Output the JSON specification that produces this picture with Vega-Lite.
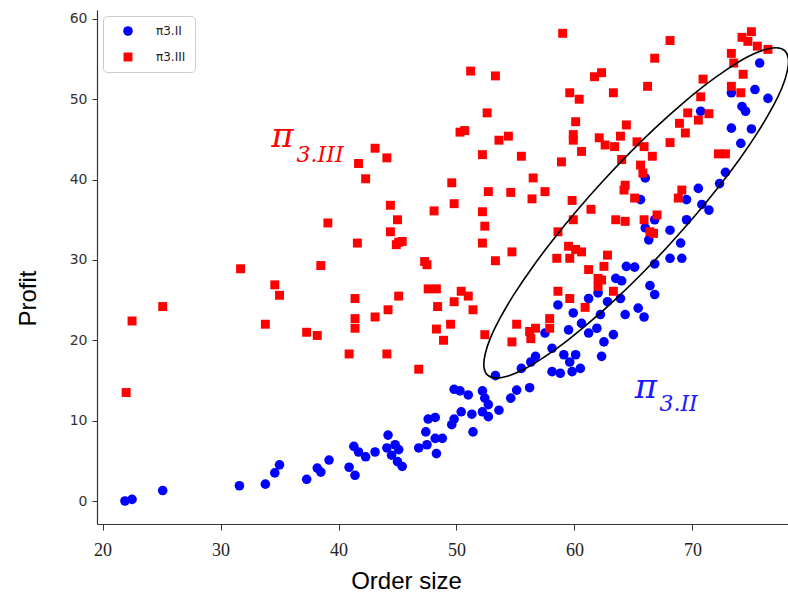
{
  "$schema": "https://vega.github.io/schema/vega-lite/v6.json",
  "width": 691,
  "height": 514,
  "autosize": {"type": "none"},
  "padding": {"left": 97, "top": 10, "right": 0, "bottom": 75},
  "background": "white",
  "config": {
    "view": {"stroke": null},
    "axis": {"grid": false, "domainColor": "#333333", "tickColor": "#333333", "tickSize": 6, "domainWidth": 1.2}
  },
  "datasets": {
    "points": [
      {"order_size": 21.9, "profit": 0.0, "series": "π3.II"},
      {"order_size": 22.5, "profit": 0.2, "series": "π3.II"},
      {"order_size": 25.1, "profit": 1.3, "series": "π3.II"},
      {"order_size": 31.6, "profit": 1.9, "series": "π3.II"},
      {"order_size": 33.8, "profit": 2.1, "series": "π3.II"},
      {"order_size": 34.6, "profit": 3.5, "series": "π3.II"},
      {"order_size": 35.0, "profit": 4.5, "series": "π3.II"},
      {"order_size": 37.3, "profit": 2.7, "series": "π3.II"},
      {"order_size": 38.2, "profit": 4.1, "series": "π3.II"},
      {"order_size": 38.5, "profit": 3.6, "series": "π3.II"},
      {"order_size": 39.2, "profit": 5.1, "series": "π3.II"},
      {"order_size": 40.9, "profit": 4.2, "series": "π3.II"},
      {"order_size": 41.4, "profit": 3.2, "series": "π3.II"},
      {"order_size": 41.3, "profit": 6.8, "series": "π3.II"},
      {"order_size": 41.7, "profit": 6.1, "series": "π3.II"},
      {"order_size": 42.3, "profit": 5.5, "series": "π3.II"},
      {"order_size": 43.1, "profit": 6.1, "series": "π3.II"},
      {"order_size": 44.2, "profit": 8.2, "series": "π3.II"},
      {"order_size": 44.1, "profit": 6.6, "series": "π3.II"},
      {"order_size": 44.8, "profit": 7.0, "series": "π3.II"},
      {"order_size": 45.1, "profit": 6.4, "series": "π3.II"},
      {"order_size": 44.5, "profit": 5.7, "series": "π3.II"},
      {"order_size": 45.0, "profit": 4.9, "series": "π3.II"},
      {"order_size": 45.4, "profit": 4.3, "series": "π3.II"},
      {"order_size": 46.8, "profit": 6.6, "series": "π3.II"},
      {"order_size": 47.5, "profit": 7.0, "series": "π3.II"},
      {"order_size": 47.4, "profit": 8.6, "series": "π3.II"},
      {"order_size": 48.3, "profit": 5.9, "series": "π3.II"},
      {"order_size": 48.2, "profit": 7.8, "series": "π3.II"},
      {"order_size": 48.8, "profit": 7.8, "series": "π3.II"},
      {"order_size": 47.6, "profit": 10.2, "series": "π3.II"},
      {"order_size": 48.2, "profit": 10.4, "series": "π3.II"},
      {"order_size": 49.6, "profit": 9.5, "series": "π3.II"},
      {"order_size": 49.8, "profit": 10.2, "series": "π3.II"},
      {"order_size": 50.4, "profit": 11.1, "series": "π3.II"},
      {"order_size": 51.3, "profit": 10.8, "series": "π3.II"},
      {"order_size": 51.4, "profit": 8.6, "series": "π3.II"},
      {"order_size": 49.8, "profit": 13.9, "series": "π3.II"},
      {"order_size": 50.3, "profit": 13.7, "series": "π3.II"},
      {"order_size": 51.0, "profit": 13.2, "series": "π3.II"},
      {"order_size": 52.2, "profit": 13.7, "series": "π3.II"},
      {"order_size": 52.4, "profit": 12.8, "series": "π3.II"},
      {"order_size": 52.7, "profit": 12.0, "series": "π3.II"},
      {"order_size": 52.2, "profit": 11.1, "series": "π3.II"},
      {"order_size": 52.7, "profit": 10.5, "series": "π3.II"},
      {"order_size": 53.6, "profit": 11.3, "series": "π3.II"},
      {"order_size": 54.6, "profit": 12.8, "series": "π3.II"},
      {"order_size": 55.1, "profit": 13.8, "series": "π3.II"},
      {"order_size": 56.2, "profit": 14.1, "series": "π3.II"},
      {"order_size": 53.3, "profit": 15.6, "series": "π3.II"},
      {"order_size": 55.5, "profit": 16.5, "series": "π3.II"},
      {"order_size": 56.3, "profit": 17.3, "series": "π3.II"},
      {"order_size": 56.7, "profit": 18.0, "series": "π3.II"},
      {"order_size": 57.5, "profit": 20.9, "series": "π3.II"},
      {"order_size": 58.1, "profit": 19.0, "series": "π3.II"},
      {"order_size": 58.1, "profit": 16.1, "series": "π3.II"},
      {"order_size": 58.6, "profit": 24.4, "series": "π3.II"},
      {"order_size": 58.8, "profit": 15.9, "series": "π3.II"},
      {"order_size": 59.5, "profit": 21.3, "series": "π3.II"},
      {"order_size": 59.9, "profit": 23.4, "series": "π3.II"},
      {"order_size": 60.1, "profit": 18.2, "series": "π3.II"},
      {"order_size": 60.5, "profit": 16.5, "series": "π3.II"},
      {"order_size": 59.8, "profit": 16.1, "series": "π3.II"},
      {"order_size": 59.6, "profit": 17.3, "series": "π3.II"},
      {"order_size": 59.1, "profit": 18.2, "series": "π3.II"},
      {"order_size": 60.6, "profit": 22.1, "series": "π3.II"},
      {"order_size": 61.2, "profit": 25.2, "series": "π3.II"},
      {"order_size": 61.2, "profit": 20.9, "series": "π3.II"},
      {"order_size": 61.9, "profit": 21.5, "series": "π3.II"},
      {"order_size": 62.3, "profit": 18.0, "series": "π3.II"},
      {"order_size": 62.5, "profit": 19.8, "series": "π3.II"},
      {"order_size": 62.2, "profit": 23.2, "series": "π3.II"},
      {"order_size": 62.0, "profit": 25.9, "series": "π3.II"},
      {"order_size": 62.8, "profit": 24.8, "series": "π3.II"},
      {"order_size": 63.3, "profit": 20.7, "series": "π3.II"},
      {"order_size": 63.5, "profit": 27.7, "series": "π3.II"},
      {"order_size": 64.0, "profit": 27.4, "series": "π3.II"},
      {"order_size": 63.9, "profit": 25.2, "series": "π3.II"},
      {"order_size": 64.3, "profit": 23.2, "series": "π3.II"},
      {"order_size": 65.4, "profit": 24.0, "series": "π3.II"},
      {"order_size": 65.9, "profit": 22.9, "series": "π3.II"},
      {"order_size": 64.4, "profit": 29.2, "series": "π3.II"},
      {"order_size": 65.1, "profit": 29.1, "series": "π3.II"},
      {"order_size": 66.4, "profit": 26.8, "series": "π3.II"},
      {"order_size": 66.8, "profit": 25.7, "series": "π3.II"},
      {"order_size": 66.8, "profit": 29.5, "series": "π3.II"},
      {"order_size": 68.1, "profit": 30.2, "series": "π3.II"},
      {"order_size": 69.1, "profit": 30.2, "series": "π3.II"},
      {"order_size": 69.0, "profit": 32.1, "series": "π3.II"},
      {"order_size": 68.1, "profit": 33.7, "series": "π3.II"},
      {"order_size": 69.5, "profit": 35.0, "series": "π3.II"},
      {"order_size": 69.5, "profit": 37.5, "series": "π3.II"},
      {"order_size": 70.8, "profit": 36.9, "series": "π3.II"},
      {"order_size": 71.4, "profit": 36.2, "series": "π3.II"},
      {"order_size": 70.5, "profit": 38.9, "series": "π3.II"},
      {"order_size": 72.3, "profit": 39.5, "series": "π3.II"},
      {"order_size": 72.8, "profit": 40.9, "series": "π3.II"},
      {"order_size": 74.1, "profit": 44.5, "series": "π3.II"},
      {"order_size": 73.3, "profit": 46.4, "series": "π3.II"},
      {"order_size": 75.0, "profit": 46.3, "series": "π3.II"},
      {"order_size": 74.2, "profit": 49.1, "series": "π3.II"},
      {"order_size": 74.5, "profit": 48.5, "series": "π3.II"},
      {"order_size": 70.7, "profit": 48.5, "series": "π3.II"},
      {"order_size": 73.3, "profit": 50.8, "series": "π3.II"},
      {"order_size": 75.3, "profit": 51.2, "series": "π3.II"},
      {"order_size": 76.4, "profit": 50.1, "series": "π3.II"},
      {"order_size": 75.7, "profit": 54.5, "series": "π3.II"},
      {"order_size": 66.0, "profit": 40.2, "series": "π3.II"},
      {"order_size": 65.6, "profit": 37.5, "series": "π3.II"},
      {"order_size": 66.8, "profit": 35.0, "series": "π3.II"},
      {"order_size": 66.0, "profit": 34.0, "series": "π3.II"},
      {"order_size": 66.3, "profit": 32.5, "series": "π3.II"},
      {"order_size": 22.0, "profit": 13.5, "series": "π3.III"},
      {"order_size": 22.5, "profit": 22.4, "series": "π3.III"},
      {"order_size": 25.1, "profit": 24.2, "series": "π3.III"},
      {"order_size": 31.7, "profit": 28.9, "series": "π3.III"},
      {"order_size": 33.8, "profit": 22.0, "series": "π3.III"},
      {"order_size": 34.6, "profit": 26.9, "series": "π3.III"},
      {"order_size": 35.0, "profit": 25.6, "series": "π3.III"},
      {"order_size": 37.3, "profit": 21.0, "series": "π3.III"},
      {"order_size": 38.2, "profit": 20.6, "series": "π3.III"},
      {"order_size": 38.5, "profit": 29.3, "series": "π3.III"},
      {"order_size": 39.1, "profit": 34.6, "series": "π3.III"},
      {"order_size": 41.4, "profit": 25.2, "series": "π3.III"},
      {"order_size": 45.1, "profit": 25.5, "series": "π3.III"},
      {"order_size": 44.2, "profit": 23.8, "series": "π3.III"},
      {"order_size": 43.1, "profit": 22.9, "series": "π3.III"},
      {"order_size": 41.4, "profit": 22.7, "series": "π3.III"},
      {"order_size": 41.4, "profit": 21.5, "series": "π3.III"},
      {"order_size": 40.9, "profit": 18.3, "series": "π3.III"},
      {"order_size": 44.1, "profit": 18.3, "series": "π3.III"},
      {"order_size": 46.8, "profit": 16.4, "series": "π3.III"},
      {"order_size": 47.6, "profit": 26.4, "series": "π3.III"},
      {"order_size": 48.3, "profit": 26.4, "series": "π3.III"},
      {"order_size": 50.4, "profit": 26.1, "series": "π3.III"},
      {"order_size": 51.0, "profit": 25.5, "series": "π3.III"},
      {"order_size": 49.8, "profit": 24.8, "series": "π3.III"},
      {"order_size": 48.4, "profit": 24.2, "series": "π3.III"},
      {"order_size": 51.4, "profit": 23.8, "series": "π3.III"},
      {"order_size": 49.5, "profit": 22.0, "series": "π3.III"},
      {"order_size": 48.3, "profit": 21.4, "series": "π3.III"},
      {"order_size": 48.9, "profit": 20.0, "series": "π3.III"},
      {"order_size": 52.4, "profit": 20.7, "series": "π3.III"},
      {"order_size": 55.1, "profit": 22.0, "series": "π3.III"},
      {"order_size": 54.7, "profit": 19.8, "series": "π3.III"},
      {"order_size": 56.2, "profit": 21.1, "series": "π3.III"},
      {"order_size": 56.7, "profit": 21.5, "series": "π3.III"},
      {"order_size": 56.3, "profit": 20.2, "series": "π3.III"},
      {"order_size": 57.9, "profit": 22.7, "series": "π3.III"},
      {"order_size": 57.9, "profit": 21.5, "series": "π3.III"},
      {"order_size": 58.6, "profit": 26.1, "series": "π3.III"},
      {"order_size": 47.3, "profit": 29.8, "series": "π3.III"},
      {"order_size": 47.5, "profit": 29.4, "series": "π3.III"},
      {"order_size": 53.3, "profit": 29.9, "series": "π3.III"},
      {"order_size": 61.2, "profit": 28.8, "series": "π3.III"},
      {"order_size": 62.5, "profit": 29.2, "series": "π3.III"},
      {"order_size": 62.0, "profit": 27.7, "series": "π3.III"},
      {"order_size": 62.3, "profit": 27.5, "series": "π3.III"},
      {"order_size": 62.0, "profit": 26.7, "series": "π3.III"},
      {"order_size": 59.6, "profit": 25.2, "series": "π3.III"},
      {"order_size": 63.3, "profit": 26.1, "series": "π3.III"},
      {"order_size": 60.9, "profit": 24.1, "series": "π3.III"},
      {"order_size": 59.0, "profit": 58.2, "series": "π3.III"},
      {"order_size": 68.1, "profit": 57.3, "series": "π3.III"},
      {"order_size": 66.8, "profit": 55.1, "series": "π3.III"},
      {"order_size": 61.7, "profit": 52.8, "series": "π3.III"},
      {"order_size": 62.3, "profit": 53.3, "series": "π3.III"},
      {"order_size": 59.6, "profit": 50.8, "series": "π3.III"},
      {"order_size": 60.4, "profit": 50.0, "series": "π3.III"},
      {"order_size": 63.3, "profit": 50.8, "series": "π3.III"},
      {"order_size": 66.2, "profit": 51.6, "series": "π3.III"},
      {"order_size": 60.1, "profit": 47.2, "series": "π3.III"},
      {"order_size": 64.4, "profit": 46.8, "series": "π3.III"},
      {"order_size": 59.9, "profit": 45.6, "series": "π3.III"},
      {"order_size": 59.9, "profit": 44.9, "series": "π3.III"},
      {"order_size": 62.1, "profit": 45.2, "series": "π3.III"},
      {"order_size": 62.6, "profit": 44.3, "series": "π3.III"},
      {"order_size": 63.9, "profit": 45.4, "series": "π3.III"},
      {"order_size": 63.4, "profit": 44.1, "series": "π3.III"},
      {"order_size": 60.6, "profit": 43.5, "series": "π3.III"},
      {"order_size": 58.9, "profit": 42.2, "series": "π3.III"},
      {"order_size": 64.0, "profit": 42.5, "series": "π3.III"},
      {"order_size": 65.3, "profit": 44.7, "series": "π3.III"},
      {"order_size": 65.9, "profit": 44.1, "series": "π3.III"},
      {"order_size": 66.6, "profit": 42.9, "series": "π3.III"},
      {"order_size": 65.6, "profit": 41.8, "series": "π3.III"},
      {"order_size": 65.8, "profit": 40.8, "series": "π3.III"},
      {"order_size": 68.1, "profit": 44.6, "series": "π3.III"},
      {"order_size": 69.6, "profit": 48.3, "series": "π3.III"},
      {"order_size": 68.9, "profit": 47.0, "series": "π3.III"},
      {"order_size": 69.4, "profit": 45.8, "series": "π3.III"},
      {"order_size": 70.5, "profit": 47.4, "series": "π3.III"},
      {"order_size": 71.4, "profit": 48.2, "series": "π3.III"},
      {"order_size": 70.7, "profit": 50.3, "series": "π3.III"},
      {"order_size": 70.9, "profit": 52.5, "series": "π3.III"},
      {"order_size": 72.2, "profit": 43.2, "series": "π3.III"},
      {"order_size": 72.8, "profit": 43.2, "series": "π3.III"},
      {"order_size": 73.3, "profit": 55.7, "series": "π3.III"},
      {"order_size": 73.5, "profit": 54.5, "series": "π3.III"},
      {"order_size": 74.3, "profit": 53.1, "series": "π3.III"},
      {"order_size": 73.3, "profit": 51.6, "series": "π3.III"},
      {"order_size": 74.1, "profit": 50.8, "series": "π3.III"},
      {"order_size": 74.2, "profit": 57.7, "series": "π3.III"},
      {"order_size": 75.0, "profit": 58.4, "series": "π3.III"},
      {"order_size": 74.7, "profit": 57.2, "series": "π3.III"},
      {"order_size": 75.5, "profit": 56.6, "series": "π3.III"},
      {"order_size": 76.4, "profit": 56.2, "series": "π3.III"},
      {"order_size": 64.3, "profit": 39.3, "series": "π3.III"},
      {"order_size": 64.2, "profit": 38.7, "series": "π3.III"},
      {"order_size": 65.1, "profit": 37.7, "series": "π3.III"},
      {"order_size": 59.8, "profit": 37.4, "series": "π3.III"},
      {"order_size": 61.4, "profit": 36.3, "series": "π3.III"},
      {"order_size": 63.5, "profit": 35.0, "series": "π3.III"},
      {"order_size": 64.3, "profit": 34.8, "series": "π3.III"},
      {"order_size": 65.9, "profit": 35.0, "series": "π3.III"},
      {"order_size": 67.0, "profit": 35.6, "series": "π3.III"},
      {"order_size": 59.9, "profit": 35.0, "series": "π3.III"},
      {"order_size": 58.6, "profit": 33.5, "series": "π3.III"},
      {"order_size": 66.4, "profit": 33.5, "series": "π3.III"},
      {"order_size": 66.7, "profit": 33.3, "series": "π3.III"},
      {"order_size": 59.5, "profit": 31.7, "series": "π3.III"},
      {"order_size": 60.1, "profit": 31.3, "series": "π3.III"},
      {"order_size": 60.6, "profit": 31.0, "series": "π3.III"},
      {"order_size": 59.6, "profit": 30.2, "series": "π3.III"},
      {"order_size": 62.8, "profit": 30.6, "series": "π3.III"},
      {"order_size": 58.5, "profit": 30.2, "series": "π3.III"},
      {"order_size": 69.1, "profit": 38.7, "series": "π3.III"},
      {"order_size": 68.8, "profit": 37.7, "series": "π3.III"},
      {"order_size": 51.2, "profit": 53.5, "series": "π3.III"},
      {"order_size": 53.3, "profit": 52.9, "series": "π3.III"},
      {"order_size": 52.6, "profit": 48.3, "series": "π3.III"},
      {"order_size": 50.3, "profit": 45.9, "series": "π3.III"},
      {"order_size": 50.7, "profit": 46.1, "series": "π3.III"},
      {"order_size": 53.6, "profit": 44.9, "series": "π3.III"},
      {"order_size": 54.4, "profit": 45.4, "series": "π3.III"},
      {"order_size": 52.2, "profit": 43.1, "series": "π3.III"},
      {"order_size": 55.5, "profit": 42.9, "series": "π3.III"},
      {"order_size": 43.1, "profit": 43.9, "series": "π3.III"},
      {"order_size": 41.7, "profit": 42.0, "series": "π3.III"},
      {"order_size": 44.1, "profit": 42.7, "series": "π3.III"},
      {"order_size": 42.3, "profit": 40.1, "series": "π3.III"},
      {"order_size": 49.6, "profit": 39.6, "series": "π3.III"},
      {"order_size": 52.7, "profit": 38.5, "series": "π3.III"},
      {"order_size": 54.6, "profit": 38.4, "series": "π3.III"},
      {"order_size": 56.5, "profit": 40.2, "series": "π3.III"},
      {"order_size": 57.5, "profit": 38.5, "series": "π3.III"},
      {"order_size": 56.4, "profit": 37.6, "series": "π3.III"},
      {"order_size": 49.8, "profit": 37.0, "series": "π3.III"},
      {"order_size": 44.4, "profit": 36.8, "series": "π3.III"},
      {"order_size": 48.1, "profit": 36.1, "series": "π3.III"},
      {"order_size": 52.2, "profit": 36.0, "series": "π3.III"},
      {"order_size": 45.0, "profit": 35.0, "series": "π3.III"},
      {"order_size": 52.4, "profit": 34.2, "series": "π3.III"},
      {"order_size": 44.4, "profit": 33.5, "series": "π3.III"},
      {"order_size": 45.1, "profit": 32.2, "series": "π3.III"},
      {"order_size": 45.4, "profit": 32.3, "series": "π3.III"},
      {"order_size": 44.9, "profit": 31.9, "series": "π3.III"},
      {"order_size": 41.6, "profit": 32.1, "series": "π3.III"},
      {"order_size": 52.2, "profit": 32.1, "series": "π3.III"},
      {"order_size": 54.7, "profit": 31.0, "series": "π3.III"}
    ],
    "ellipse": [
      {"step": 0, "order_size": 77.82, "profit": 56.04},
      {"step": 1, "order_size": 78.13, "profit": 55.06},
      {"step": 2, "order_size": 78.04, "profit": 53.50},
      {"step": 3, "order_size": 77.58, "profit": 51.40},
      {"step": 4, "order_size": 76.72, "profit": 48.82},
      {"step": 5, "order_size": 75.53, "profit": 45.87},
      {"step": 6, "order_size": 74.02, "profit": 42.60},
      {"step": 7, "order_size": 72.24, "profit": 39.13},
      {"step": 8, "order_size": 70.25, "profit": 35.55},
      {"step": 9, "order_size": 68.10, "profit": 31.98},
      {"step": 10, "order_size": 65.87, "profit": 28.53},
      {"step": 11, "order_size": 63.63, "profit": 25.31},
      {"step": 12, "order_size": 61.42, "profit": 22.41},
      {"step": 13, "order_size": 59.34, "profit": 19.91},
      {"step": 14, "order_size": 57.43, "profit": 17.90},
      {"step": 15, "order_size": 55.76, "profit": 16.42},
      {"step": 16, "order_size": 54.38, "profit": 15.56},
      {"step": 17, "order_size": 53.33, "profit": 15.30},
      {"step": 18, "order_size": 52.64, "profit": 15.66},
      {"step": 19, "order_size": 52.33, "profit": 16.64},
      {"step": 20, "order_size": 52.42, "profit": 18.20},
      {"step": 21, "order_size": 52.88, "profit": 20.30},
      {"step": 22, "order_size": 53.74, "profit": 22.88},
      {"step": 23, "order_size": 54.93, "profit": 25.83},
      {"step": 24, "order_size": 56.44, "profit": 29.10},
      {"step": 25, "order_size": 58.22, "profit": 32.58},
      {"step": 26, "order_size": 60.21, "profit": 36.15},
      {"step": 27, "order_size": 62.36, "profit": 39.72},
      {"step": 28, "order_size": 64.58, "profit": 43.17},
      {"step": 29, "order_size": 66.83, "profit": 46.40},
      {"step": 30, "order_size": 69.03, "profit": 49.30},
      {"step": 31, "order_size": 71.12, "profit": 51.80},
      {"step": 32, "order_size": 73.03, "profit": 53.80},
      {"step": 33, "order_size": 74.69, "profit": 55.28},
      {"step": 34, "order_size": 76.08, "profit": 56.14},
      {"step": 35, "order_size": 77.13, "profit": 56.41}
    ],
    "labels": [
      {"order_size": 34.3, "profit": 44.07, "sub_x": 36.45, "sub_y": 42.2, "pi": "π", "sub": "3.III", "series": "π3.III"},
      {"order_size": 65.1, "profit": 12.82, "sub_x": 67.2, "sub_y": 11.2, "pi": "π", "sub": "3.II", "series": "π3.II"}
    ]
  },
  "layer": [
    {
      "data": {"name": "points"},
      "mark": {"type": "point", "filled": true, "opacity": 1, "strokeWidth": 0},
      "encoding": {
        "x": {
          "field": "order_size", "type": "quantitative",
          "scale": {"domain": [19.53, 78.1], "nice": false, "zero": false},
          "axis": {
            "title": "Order size", "values": [20, 30, 40, 50, 60, 70],
            "labelFont": "Liberation Serif", "labelFontSize": 18, "labelColor": "#222222", "labelPadding": 11,
            "titleFont": "Liberation Sans", "titleFontSize": 24, "titleFontWeight": "normal", "titleColor": "#000000",
            "titleX": 309, "titleY": 64, "titleBaseline": "alphabetic", "titleAlign": "center"
          }
        },
        "y": {
          "field": "profit", "type": "quantitative",
          "scale": {"domain": [-2.86, 61.1], "nice": false, "zero": false},
          "axis": {
            "title": "Profit", "values": [0, 10, 20, 30, 40, 50, 60], "tickSize": 5,
            "labelFont": "DejaVu Sans", "labelFontSize": 14, "labelColor": "#333333", "labelPadding": 5,
            "titleFont": "Liberation Sans", "titleFontSize": 24, "titleFontWeight": "normal", "titleColor": "#000000",
            "titleAngle": -90, "titleX": -62, "titleY": 288, "titleBaseline": "alphabetic", "titleAlign": "center"
          }
        },
        "color": {
          "field": "series", "type": "nominal",
          "scale": {"domain": ["π3.II", "π3.III"], "range": ["#0000ff", "#ff0000"]},
          "legend": {
            "title": null, "orient": "none", "legendX": 6, "legendY": 6,
            "padding": 9, "fillColor": "white", "strokeColor": "#cccccc", "cornerRadius": 4,
            "symbolOffset": 10, "symbolSize": 85, "labelOffset": 22, "rowPadding": 14,
            "labelFont": "DejaVu Sans", "labelFontSize": 12, "labelColor": "#222222"
          }
        },
        "shape": {
          "field": "series", "type": "nominal",
          "scale": {"domain": ["π3.II", "π3.III"], "range": ["circle", "square"]},
          "legend": {
            "title": null, "orient": "none", "legendX": 6, "legendY": 6,
            "padding": 9, "fillColor": "white", "strokeColor": "#cccccc", "cornerRadius": 4,
            "symbolOffset": 10, "symbolSize": 85, "labelOffset": 22, "rowPadding": 14,
            "labelFont": "DejaVu Sans", "labelFontSize": 12, "labelColor": "#222222"
          }
        },
        "size": {
          "field": "series", "type": "nominal",
          "scale": {"domain": ["π3.II", "π3.III"], "range": [92, 80]},
          "legend": null
        }
      }
    },
    {
      "data": {"name": "ellipse"},
      "mark": {"type": "line", "color": "#000000", "strokeWidth": 1.6, "interpolate": "cardinal-closed", "clip": true},
      "encoding": {
        "x": {"field": "order_size", "type": "quantitative"},
        "y": {"field": "profit", "type": "quantitative"},
        "order": {"field": "step", "type": "quantitative"}
      }
    },
    {
      "mark": {"type": "rule", "color": "#333333", "strokeWidth": 1.2},
      "encoding": {"y": {"datum": 61.1}}
    },
    {
      "data": {"name": "labels"},
      "mark": {"type": "text", "font": "DejaVu Serif", "fontStyle": "italic", "fontSize": 34, "align": "left", "baseline": "alphabetic"},
      "encoding": {
        "x": {"field": "order_size", "type": "quantitative"},
        "y": {"field": "profit", "type": "quantitative"},
        "text": {"field": "pi"},
        "color": {"condition": {"test": "datum.series === 'π3.II'", "value": "#1a1aff"}, "value": "#ff0000"}
      }
    },
    {
      "data": {"name": "labels"},
      "mark": {"type": "text", "font": "DejaVu Serif", "fontStyle": "italic", "fontSize": 22, "align": "left", "baseline": "alphabetic"},
      "encoding": {
        "x": {"field": "sub_x", "type": "quantitative"},
        "y": {"field": "sub_y", "type": "quantitative"},
        "text": {"field": "sub"},
        "color": {"condition": {"test": "datum.series === 'π3.II'", "value": "#1a1aff"}, "value": "#ff0000"}
      }
    }
  ]
}
